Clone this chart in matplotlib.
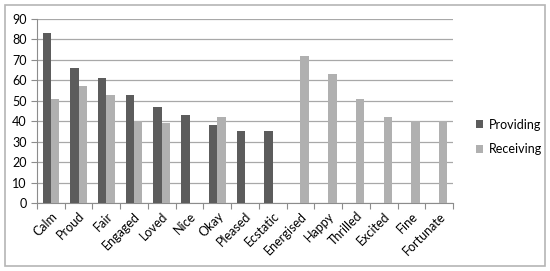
import numpy as np
import matplotlib.pyplot as plt
from matplotlib.patches import Rectangle

categories = ["Calm", "Proud", "Fair", "Engaged", "Loved", "Nice", "Okay", "Pleased",
              "Ecstatic", "Energised", "Happy", "Thrilled", "Excited", "Fine", "Fortunate"]
providing = [83, 66, 61, 53, 47, 43, 38, 35, 35, 0, 0, 0, 0, 0, 0]
receiving = [51, 57, 53, 40, 39, 0, 42, 0, 0, 72, 63, 51, 42, 40, 40]
y_ticks = [0, 10, 20, 30, 40, 50, 60, 70, 80, 90]

plt.rcParams['font.family'] = ['Lato', 'DejaVu Sans']

fig = plt.figure(figsize=(5.5, 2.71), dpi=100)
# outer frame
fig.patches.append(Rectangle((5 / 550, 5 / 271), 540 / 550, 261 / 271, transform=fig.transFigure,
                             fill=False, edgecolor="#b5b5b5", linewidth=1.2))

ax = fig.add_axes([37 / 550, 1 - 203 / 271, (453 - 37) / 550, (203 - 19) / 271])

x = np.arange(len(categories))
w = 0.3
ax.bar(x - w / 2, providing, w, color="#5c5c5c", label="Providing", zorder=3)
ax.bar(x + w / 2, receiving, w, color="#b0b0b0", label="Receiving", zorder=3)

ax.set_xlim(-0.5, len(categories) - 0.5)
ax.set_ylim(0, 90)
ax.set_yticks(y_ticks)
ax.yaxis.grid(True, color="#a8a8a8", linewidth=0.9, zorder=0)
ax.set_axisbelow(True)

ax.set_xticks(np.arange(len(categories) + 1) - 0.5)
ax.set_xticklabels([])
ax.set_xticks(x, minor=True)
ax.set_xticklabels(categories, minor=True, rotation=45, ha="right", rotation_mode="anchor", fontsize=9)
ax.tick_params(axis="x", which="minor", length=0, pad=5)
ax.tick_params(axis="x", which="major", length=4, color="#8c8c8c")
ax.tick_params(axis="y", length=4, color="#8c8c8c", labelsize=9)

for s in ["top", "right"]:
    ax.spines[s].set_visible(False)
for s in ["left", "bottom"]:
    ax.spines[s].set_color("#8c8c8c")

ax.legend(loc="center left", bbox_to_anchor=(1.028, 0.36), frameon=False, fontsize=9,
          handlelength=0.6, handleheight=0.6, handletextpad=0.4, labelspacing=1.0)

fig.savefig("out.png", dpi=100)
